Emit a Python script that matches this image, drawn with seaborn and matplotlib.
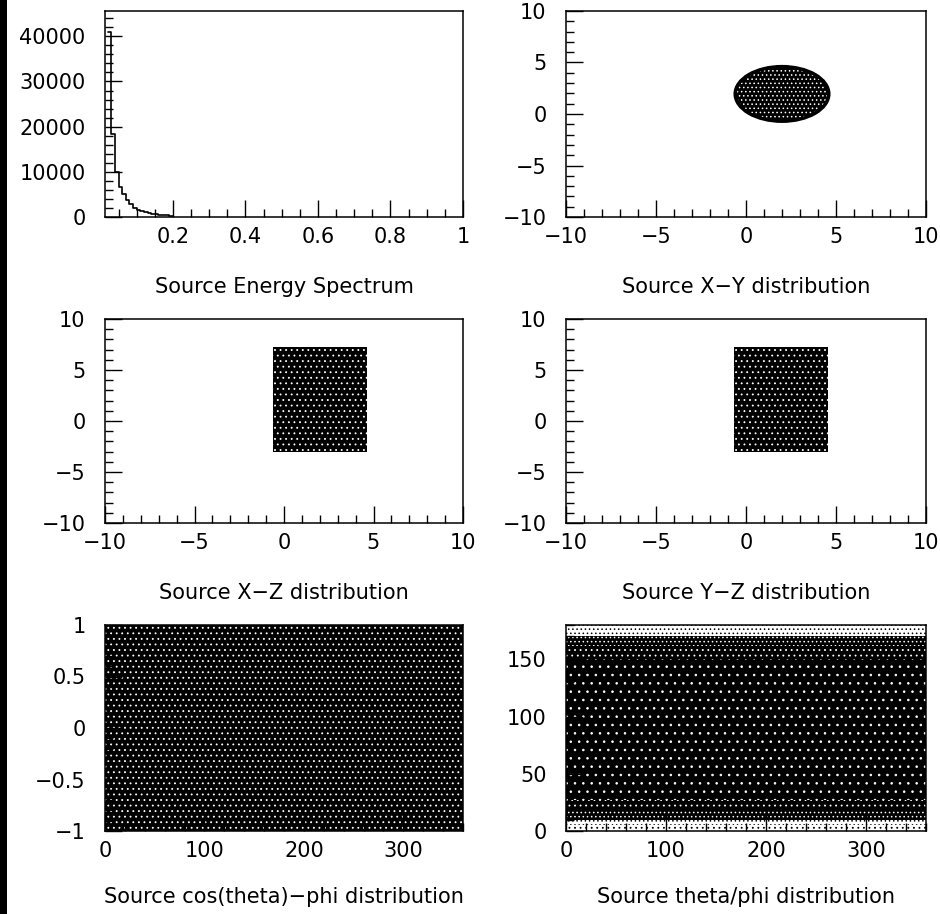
import matplotlib
matplotlib.use('Agg')
import matplotlib.pyplot as plt
from matplotlib.patches import Ellipse, Rectangle
from matplotlib.ticker import MultipleLocator
import seaborn as sns

# ---- data ----
# energy spectrum histogram
energy_edges = [0.02, 0.03, 0.04, 0.05, 0.06, 0.07, 0.08, 0.09, 0.10, 0.11,
                0.12, 0.13, 0.14, 0.15, 0.16, 0.17, 0.18, 0.19, 0.20]
energy_counts = [40900, 18450, 9950, 6700, 5000, 3700, 2800, 2100, 1600,
                 1250, 1000, 820, 680, 560, 470, 400, 340, 290]

# x-y disc of source points
xy_center = (2.0, 1.95)
xy_width = 5.2
xy_height = 5.3

# x-z and y-z boxes (horizontal range, z range)
xz_x = (-0.6, 4.65)
xz_z = (-3.0, 7.25)
yz_y = (-0.65, 4.55)
yz_z = (-3.0, 7.25)

# cos(theta)-phi: uniform over the whole frame
phi_range = (0, 360)
cos_range = (-1, 1)
cos_darkness = 0.9

# theta/phi: darkness of each theta band
theta_edges = [0, 5, 10, 18, 27, 150, 162, 170, 175, 180]
theta_darkness = [0.3, 0.5, 0.7, 0.85, 0.97, 0.85, 0.7, 0.55, 0.45]

titles = ['Source Energy Spectrum', 'Source X\u2212Y distribution',
          'Source X\u2212Z distribution', 'Source Y\u2212Z distribution',
          'Source cos(theta)\u2212phi distribution', 'Source theta/phi distribution']


def speckle_style(d):
    # black with white dots for dense regions, white with black dots for thin ones
    if d >= 0.95:
        return 'black', 'white', '..'
    if d >= 0.8:
        return 'black', 'white', '...'
    if d >= 0.6:
        return 'black', 'white', '....'
    if d >= 0.4:
        return 'white', 'black', '....'
    return 'white', 'black', '...'


def speckle_fill(ax, x, y0, y1, d):
    fc, hc, hatch = speckle_style(d)
    ax.fill_between(x, y0, y1, facecolor=fc, edgecolor=hc, hatch=hatch,
                    linewidth=0, zorder=1)


def style_axis(ax, xmaj, xmin, ymaj, ymin):
    ax.xaxis.set_major_locator(MultipleLocator(xmaj))
    ax.xaxis.set_minor_locator(MultipleLocator(xmin))
    ax.yaxis.set_major_locator(MultipleLocator(ymaj))
    ax.yaxis.set_minor_locator(MultipleLocator(ymin))
    ax.tick_params(which='both', direction='in', width=1.0, top=False, right=False,
                   color='black', labelcolor='black')
    ax.tick_params(which='major', length=12)
    ax.tick_params(which='minor', length=5.5)
    ax.tick_params(axis='x', pad=7)
    ax.tick_params(axis='y', pad=14)
    for s in ax.spines.values():
        s.set_linewidth(1.1)
        s.set_color('black')
    ax.set_xlabel('')
    ax.set_ylabel('')


def put_title(ax, text, off):
    ax.annotate(text, xy=(0.5, 0), xycoords='axes fraction', xytext=(0, -off),
                textcoords='offset points', ha='center', va='center', fontsize=15,
                color='black')


sns.set_style('ticks')
plt.rcParams['font.family'] = ['DejaVu Sans']
plt.rcParams['font.size'] = 15
plt.rcParams['text.color'] = 'black'
plt.rcParams['xtick.color'] = 'black'
plt.rcParams['ytick.color'] = 'black'
plt.rcParams['axes.edgecolor'] = 'black'
plt.rcParams['hatch.linewidth'] = 0.6
plt.rcParams['axes.unicode_minus'] = True

fig = plt.figure(figsize=(9.4, 9.14), dpi=100)
fig.patches.append(Rectangle((0, 0), 7 / 940, 1, transform=fig.transFigure,
                             facecolor='black', edgecolor='none'))

W, H = 940, 914


def rect(left, top, right, bottom):
    return [left / W, 1 - bottom / H, (right - left) / W, (bottom - top) / H]


ax1 = fig.add_axes(rect(105, 11, 463, 217))
ax2 = fig.add_axes(rect(566, 11, 926, 217))
ax3 = fig.add_axes(rect(105, 319, 463, 523))
ax4 = fig.add_axes(rect(566, 319, 926, 523))
ax5 = fig.add_axes(rect(105, 625, 463, 831))
ax6 = fig.add_axes(rect(566, 625, 926, 831))

# energy spectrum
centers = [(a + b) / 2 for a, b in zip(energy_edges[:-1], energy_edges[1:])]
sns.histplot(x=centers, weights=energy_counts, bins=energy_edges, element='step',
             fill=False, color='black', linewidth=1.2, ax=ax1)
ax1.set_xlim(0.0126, 1)
ax1.set_ylim(0, 45600)
style_axis(ax1, 0.2, 0.05, 10000, 2000)
ax1.set_xticks([0.2, 0.4, 0.6, 0.8, 1.0])
ax1.set_xticklabels(['0.2', '0.4', '0.6', '0.8', '1'])

# x-y disc
fc, hc, hatch = speckle_style(0.75)
ax2.add_patch(Ellipse(xy_center, xy_width, xy_height, facecolor=fc,
                      edgecolor=hc, linewidth=0, hatch=hatch))
ax2.add_patch(Ellipse(xy_center, xy_width, xy_height, facecolor='none',
                      edgecolor='black', linewidth=2.5))
ax2.set_xlim(-10, 10)
ax2.set_ylim(-10, 10)
style_axis(ax2, 5, 1, 5, 1)

# x-z and y-z boxes
speckle_fill(ax3, list(xz_x), xz_z[0], xz_z[1], 0.85)
speckle_fill(ax4, list(yz_y), yz_z[0], yz_z[1], 0.85)
for ax in (ax3, ax4):
    ax.set_xlim(-10, 10)
    ax.set_ylim(-10, 10)
    style_axis(ax, 5, 1, 5, 1)

# cos(theta)-phi
speckle_fill(ax5, list(phi_range), cos_range[0], cos_range[1], cos_darkness)
ax5.set_xlim(0, 360)
ax5.set_ylim(-1, 1)
style_axis(ax5, 100, 20, 0.5, 0.1)
ax5.set_yticks([-1, -0.5, 0, 0.5, 1])
ax5.set_yticklabels(['\u22121', '\u22120.5', '0', '0.5', '1'])

# theta/phi bands
for lo, hi, d in zip(theta_edges[:-1], theta_edges[1:], theta_darkness):
    speckle_fill(ax6, list(phi_range), lo, hi, d)
ax6.set_xlim(0, 360)
ax6.set_ylim(0, 180)
style_axis(ax6, 100, 20, 50, 10)

for ax, t, off in zip([ax1, ax2, ax3, ax4, ax5, ax6], titles,
                      [50.5, 50.5, 50.5, 50.5, 47.5, 47.5]):
    put_title(ax, t, off)
    ax.set_axisbelow(False)

fig.savefig('out.png', dpi=100, facecolor='white')
